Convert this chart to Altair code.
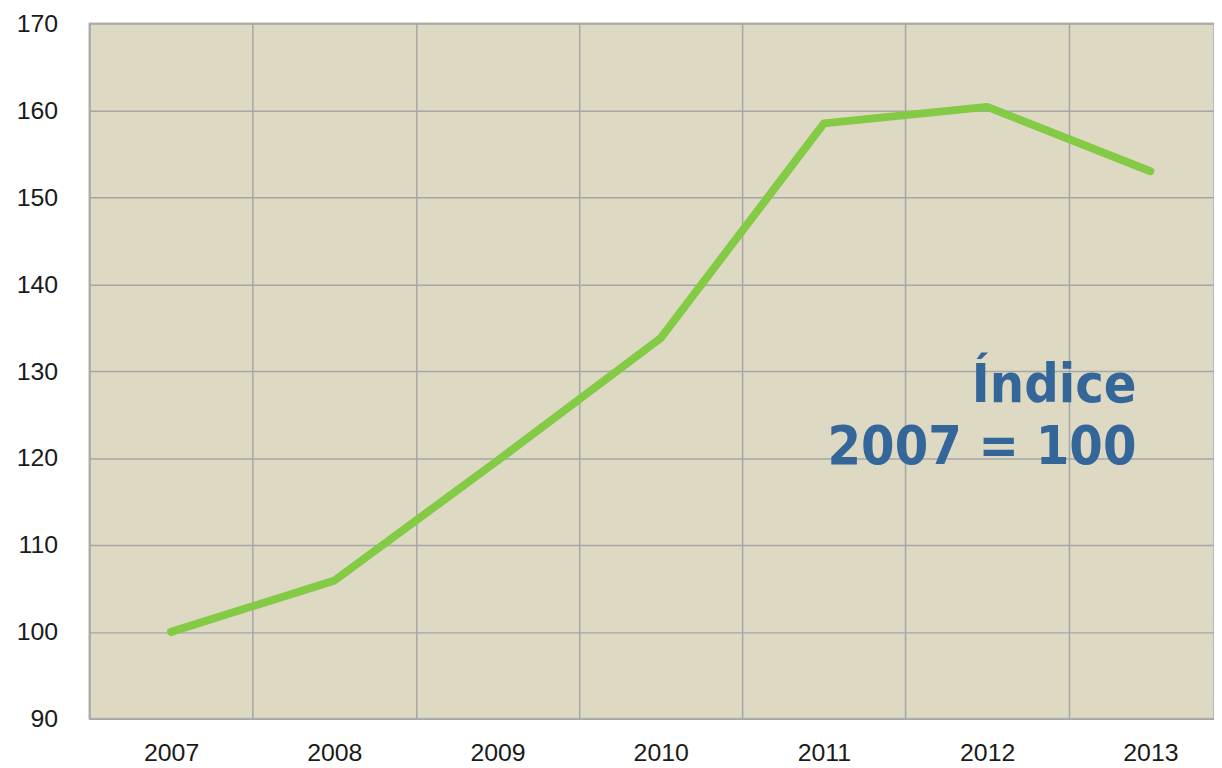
import altair as alt
import pandas as pd

years = [2007, 2008, 2009, 2010, 2011, 2012, 2013]
values = [100.0, 105.9, 119.7, 133.8, 158.5, 160.4, 153.0]
grid_years = [2006.5, 2007.5, 2008.5, 2009.5, 2010.5, 2011.5, 2012.5]
y_ticks = [90, 100, 110, 120, 130, 140, 150, 160, 170]
note_lines = ["Índice", "2007 = 100"]

df = pd.DataFrame({"year": years, "value": values})

W = 1132
H = 700
px_per_year = 164.3
x_max = 2006.5 + W / px_per_year

base = alt.Chart(df)

line = base.mark_line(color="#83ca45", strokeWidth=8, strokeCap="round", strokeJoin="round").encode(
    x=alt.X("year:Q",
            scale=alt.Scale(domain=[2006.5, x_max], nice=False, zero=False),
            axis=alt.Axis(values=grid_years, labelExpr="format(datum.value + 0.5, 'd')",
                          labelOffset=px_per_year / 2, labelFlush=False, labelOverlap=False,
                          labelBound=False, ticks=False, domain=False, grid=True,
                          gridColor="#a6a6a6", gridWidth=1.5, labelFont="Liberation Sans",
                          labelFontSize=25, labelColor="#1a1a1a", labelPadding=22, title=None)),
    y=alt.Y("value:Q",
            scale=alt.Scale(domain=[90, 170], nice=False, zero=False),
            axis=alt.Axis(values=y_ticks, ticks=False, domain=False, grid=True,
                          gridColor="#a6a6a6", gridWidth=1.5, labelFont="Liberation Sans",
                          labelFontSize=25, labelColor="#1a1a1a", labelPadding=32, title=None)),
)

note = alt.Chart(pd.DataFrame({"t": [0]})).mark_text(
    font="DejaVu Sans Condensed", fontWeight="bold", fontSize=54, color="#35669a",
    align="right", baseline="alphabetic", lineHeight=63,
).encode(
    x=alt.value(1054), y=alt.value(381), text=alt.value(note_lines)
)

chart = alt.layer(line, note).properties(
    width=W, height=H,
    background="white",
    autosize=alt.AutoSizeParams(type="none"),
    padding={"left": 82, "top": 13, "right": 0, "bottom": 47},
).configure_view(
    fill="#ddd9c3", stroke="#b8b8b8", strokeWidth=2
)

chart.save("out.html", embed_options={"renderer": "svg", "actions": False})
